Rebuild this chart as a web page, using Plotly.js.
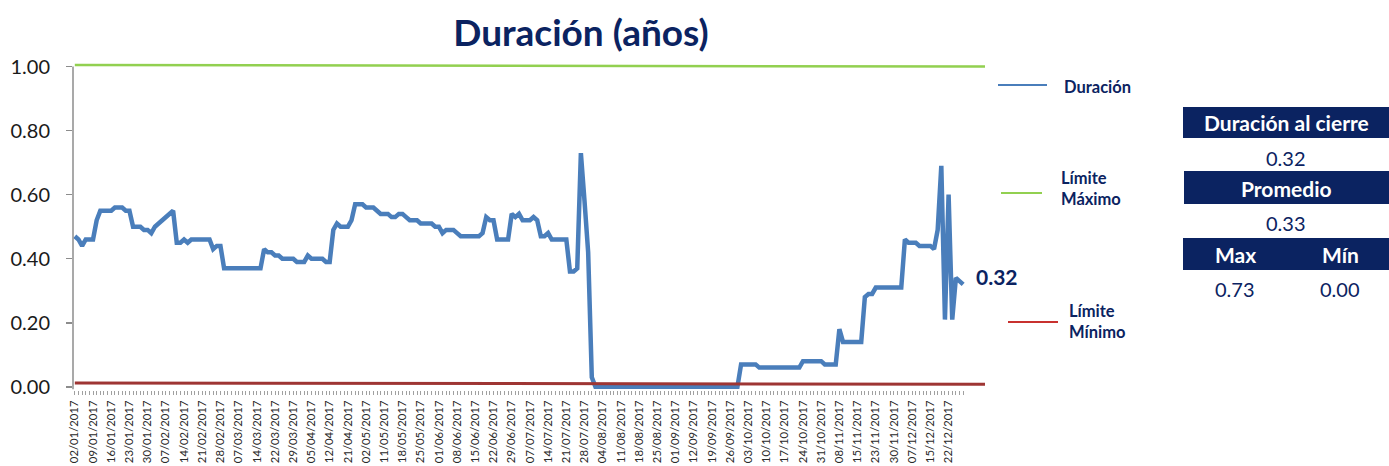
<!DOCTYPE html>
<html>
<head>
<meta charset="utf-8">
<script src="https://cdn.plot.ly/plotly-3.0.1.min.js"></script>
<style>
  html, body { margin: 0; padding: 0; background: #ffffff; }
  #chart { width: 1389px; height: 466px; }
</style>
</head>
<body>
<div id="chart"></div>
<script>
// ---------- DATA ----------
const dates = [
  "02/01/2017","03/01/2017","04/01/2017","05/01/2017","06/01/2017",
  "09/01/2017","10/01/2017","11/01/2017","12/01/2017","13/01/2017",
  "16/01/2017","17/01/2017","18/01/2017","19/01/2017","20/01/2017",
  "23/01/2017","24/01/2017","25/01/2017","26/01/2017","27/01/2017",
  "30/01/2017","31/01/2017","01/02/2017","02/02/2017","03/02/2017",
  "07/02/2017","08/02/2017","09/02/2017","10/02/2017","13/02/2017",
  "14/02/2017","15/02/2017","16/02/2017","17/02/2017","20/02/2017",
  "21/02/2017","22/02/2017","23/02/2017","24/02/2017","27/02/2017",
  "28/02/2017","01/03/2017","02/03/2017","03/03/2017","06/03/2017",
  "07/03/2017","08/03/2017","09/03/2017","10/03/2017","13/03/2017",
  "14/03/2017","15/03/2017","16/03/2017","17/03/2017","21/03/2017",
  "22/03/2017","23/03/2017","24/03/2017","27/03/2017","28/03/2017",
  "29/03/2017","30/03/2017","31/03/2017","03/04/2017","04/04/2017",
  "05/04/2017","06/04/2017","07/04/2017","10/04/2017","11/04/2017",
  "12/04/2017","17/04/2017","18/04/2017","19/04/2017","20/04/2017",
  "21/04/2017","24/04/2017","25/04/2017","26/04/2017","27/04/2017",
  "02/05/2017","04/05/2017","05/05/2017","08/05/2017","10/05/2017",
  "11/05/2017","12/05/2017","15/05/2017","16/05/2017","17/05/2017",
  "18/05/2017","19/05/2017","22/05/2017","23/05/2017","24/05/2017",
  "25/05/2017","26/05/2017","29/05/2017","30/05/2017","31/05/2017",
  "01/06/2017","02/06/2017","05/06/2017","06/06/2017","07/06/2017",
  "08/06/2017","09/06/2017","12/06/2017","13/06/2017","14/06/2017",
  "15/06/2017","16/06/2017","19/06/2017","20/06/2017","21/06/2017",
  "22/06/2017","23/06/2017","26/06/2017","27/06/2017","28/06/2017",
  "29/06/2017","30/06/2017","03/07/2017","05/07/2017","06/07/2017",
  "07/07/2017","10/07/2017","11/07/2017","12/07/2017","13/07/2017",
  "14/07/2017","17/07/2017","18/07/2017","19/07/2017","20/07/2017",
  "21/07/2017","24/07/2017","25/07/2017","26/07/2017","27/07/2017",
  "28/07/2017","31/07/2017","01/08/2017","02/08/2017","03/08/2017",
  "04/08/2017","07/08/2017","08/08/2017","09/08/2017","10/08/2017",
  "11/08/2017","14/08/2017","15/08/2017","16/08/2017","17/08/2017",
  "18/08/2017","21/08/2017","22/08/2017","23/08/2017","24/08/2017",
  "25/08/2017","28/08/2017","29/08/2017","30/08/2017","31/08/2017",
  "01/09/2017","04/09/2017","05/09/2017","06/09/2017","08/09/2017",
  "12/09/2017","13/09/2017","14/09/2017","15/09/2017","18/09/2017",
  "19/09/2017","20/09/2017","21/09/2017","22/09/2017","25/09/2017",
  "26/09/2017","27/09/2017","28/09/2017","29/09/2017","02/10/2017",
  "03/10/2017","04/10/2017","05/10/2017","06/10/2017","09/10/2017",
  "10/10/2017","11/10/2017","12/10/2017","13/10/2017","16/10/2017",
  "17/10/2017","18/10/2017","19/10/2017","20/10/2017","23/10/2017",
  "24/10/2017","25/10/2017","26/10/2017","27/10/2017","30/10/2017",
  "31/10/2017","01/11/2017","03/11/2017","06/11/2017","07/11/2017",
  "08/11/2017","09/11/2017","10/11/2017","13/11/2017","14/11/2017",
  "15/11/2017","16/11/2017","17/11/2017","21/11/2017","22/11/2017",
  "23/11/2017","24/11/2017","27/11/2017","28/11/2017","29/11/2017",
  "30/11/2017","01/12/2017","04/12/2017","05/12/2017","06/12/2017",
  "07/12/2017","08/12/2017","11/12/2017","13/12/2017","14/12/2017",
  "15/12/2017","18/12/2017","19/12/2017","20/12/2017","21/12/2017",
  "22/12/2017","26/12/2017","27/12/2017","28/12/2017","29/12/2017"
];

const duracion = [
  0.47,0.46,0.44,0.46,0.46, 0.46,0.52,0.55,0.55,0.55,
  0.55,0.56,0.56,0.56,0.55, 0.55,0.50,0.50,0.50,0.49,
  0.49,0.48,0.50,0.51,0.52, 0.53,0.54,0.55,0.45,0.45,
  0.46,0.45,0.46,0.46,0.46, 0.46,0.46,0.46,0.43,0.44,
  0.44,0.37,0.37,0.37,0.37, 0.37,0.37,0.37,0.37,0.37,
  0.37,0.37,0.43,0.42,0.42, 0.41,0.41,0.40,0.40,0.40,
  0.40,0.39,0.39,0.39,0.41, 0.40,0.40,0.40,0.40,0.39,
  0.39,0.49,0.51,0.50,0.50, 0.50,0.52,0.57,0.57,0.57,
  0.56,0.56,0.56,0.55,0.54, 0.54,0.54,0.53,0.53,0.54,
  0.54,0.53,0.52,0.52,0.52, 0.51,0.51,0.51,0.51,0.50,
  0.50,0.48,0.49,0.49,0.49, 0.48,0.47,0.47,0.47,0.47,
  0.47,0.47,0.48,0.53,0.52, 0.52,0.46,0.46,0.46,0.46,
  0.54,0.53,0.54,0.52,0.52, 0.52,0.53,0.52,0.47,0.47,
  0.48,0.46,0.46,0.46,0.46, 0.46,0.36,0.36,0.37,0.73,
  0.58,0.42,0.03,0.00,0.00, 0.00,0.00,0.00,0.00,0.00,
  0.00,0.00,0.00,0.00,0.00, 0.00,0.00,0.00,0.00,0.00,
  0.00,0.00,0.00,0.00,0.00, 0.00,0.00,0.00,0.00,0.00,
  0.00,0.00,0.00,0.00,0.00, 0.00,0.00,0.00,0.00,0.00,
  0.00,0.00,0.00,0.07,0.07, 0.07,0.07,0.07,0.06,0.06,
  0.06,0.06,0.06,0.06,0.06, 0.06,0.06,0.06,0.06,0.06,
  0.08,0.08,0.08,0.08,0.08, 0.08,0.07,0.07,0.07,0.07,
  0.18,0.14,0.14,0.14,0.14, 0.14,0.14,0.28,0.29,0.29,
  0.31,0.31,0.31,0.31,0.31, 0.31,0.31,0.31,0.46,0.45,
  0.45,0.45,0.44,0.44,0.44, 0.44,0.43,0.49,0.69,0.21,
  0.60,0.21,0.34,0.33,0.32
];

const limiteMaximo = [1.005, 1.0];
const limiteMinimo = [0.012, 0.008];
const limiteSpan = [0.002, 1.0];

const yTicks = [0, 0.2, 0.4, 0.6, 0.8, 1.0];

const statHeaders = ["Duración al cierre", "Promedio", "Max", "Mín"];
const statValues = ["0.32", "0.33", "0.73", "0.00"];
const lastLabel = "0.32";

const legendNames = ["Duración", "Límite<br>Máximo", "Límite<br>Mínimo"];

// ---------- LAYOUT HELPERS ----------
const FULLW = 1389, FULLH = 466;
const ML = 73, MR = 404, MT = 57, MB = 76;
const PW = FULLW - ML - MR, PH = FULLH - MT - MB;
const px = v => (v - ML) / PW;
const py = v => (FULLH - MB - v) / PH;

const NAVY = "#0b2361";
const BLUE = "#4A7EBB";
const GREEN = "#92D050";
const DARKRED = "#9E3533";

const tickText = dates.map((d, i) => (i % 5 === 0 ? d : ""));

const traces = [
  {
    x: dates, y: duracion, type: "scatter", mode: "lines",
    line: { color: BLUE, width: 4.5 }, hoverinfo: "x+y", showlegend: false
  },
  {
    x: limiteSpan, y: limiteMaximo, xaxis: "x2", yaxis: "y", type: "scatter",
    mode: "lines", line: { color: GREEN, width: 2.5 }, showlegend: false
  },
  {
    x: limiteSpan, y: limiteMinimo, xaxis: "x2", yaxis: "y", type: "scatter",
    mode: "lines", line: { color: DARKRED, width: 3 }, showlegend: false
  }
];

const shapes = [
  // y axis line
  { type: "line", xref: "paper", yref: "y", x0: 0, x1: 0, y0: -0.008, y1: 1.0,
    line: { color: "#8c8c8c", width: 1.5 } },
  // legend swatches
  { type: "line", xref: "paper", yref: "paper", x0: px(998), x1: px(1047), y0: py(85), y1: py(85),
    line: { color: BLUE, width: 2 } },
  { type: "line", xref: "paper", yref: "paper", x0: px(1001), x1: px(1042), y0: py(193), y1: py(193),
    line: { color: GREEN, width: 2 } },
  { type: "line", xref: "paper", yref: "paper", x0: px(1008), x1: px(1058), y0: py(322), y1: py(322),
    line: { color: "#C8312F", width: 2 } },
  // table header bars
  { type: "rect", xref: "paper", yref: "paper", x0: px(1183), x1: px(1389), y0: py(138), y1: py(107),
    fillcolor: NAVY, line: { width: 0 } },
  { type: "rect", xref: "paper", yref: "paper", x0: px(1184), x1: px(1389), y0: py(204), y1: py(171),
    fillcolor: NAVY, line: { width: 0 } },
  { type: "rect", xref: "paper", yref: "paper", x0: px(1183), x1: px(1389), y0: py(270), y1: py(238),
    fillcolor: NAVY, line: { width: 0 } }
];

const ann = (x, y, text, opts) => Object.assign({
  xref: "paper", yref: "paper", x: px(x), y: py(y), text: text, showarrow: false,
  xanchor: "center", yanchor: "middle",
  font: { family: "Lato, 'Open Sans', sans-serif", size: 20, color: NAVY }
}, opts || {});

const annotations = [
  // legend labels
  ann(1062, 87, "<b>" + legendNames[0] + "</b>", { xanchor: "left", align: "left",
    font: { family: "Lato", size: 16.5, color: NAVY } }),
  ann(1059, 188, "<b>" + legendNames[1] + "</b>", { xanchor: "left", align: "left",
    font: { family: "Lato", size: 16.5, color: NAVY } }),
  ann(1067, 321, "<b>" + legendNames[2] + "</b>", { xanchor: "left", align: "left",
    font: { family: "Lato", size: 16.5, color: NAVY } }),
  // table
  ann(1286, 123, "<b>" + statHeaders[0] + "</b>", { font: { family: "Lato", size: 21, color: "#ffffff" } }),
  ann(1286, 158, statValues[0]),
  ann(1286, 188, "<b>" + statHeaders[1] + "</b>", { font: { family: "Lato", size: 21, color: "#ffffff" } }),
  ann(1286, 223, statValues[1]),
  ann(1235, 254, "<b>" + statHeaders[2] + "</b>", { font: { family: "Lato", size: 21, color: "#ffffff" } }),
  ann(1340, 254, "<b>" + statHeaders[3] + "</b>", { font: { family: "Lato", size: 21, color: "#ffffff" } }),
  ann(1235, 289, statValues[2]),
  ann(1340, 289, statValues[3]),
  // end label
  {
    xref: "x", yref: "y", x: dates[dates.length - 1], y: duracion[duracion.length - 1],
    text: "<b>" + lastLabel + "</b>", showarrow: false, xanchor: "left", yanchor: "middle",
    xshift: 11, yshift: 8,
    font: { family: "Lato", size: 21, color: NAVY }
  }
];

const layout = {
  width: FULLW, height: FULLH,
  margin: { l: ML, r: MR, t: MT, b: MB, pad: 0 },
  paper_bgcolor: "#ffffff", plot_bgcolor: "#ffffff",
  showlegend: false,
  title: {
    text: "<b>Duración (años)</b>",
    font: { family: "Lato, sans-serif", size: 37, color: NAVY },
    xref: "container", yref: "container", x: 581 / FULLW, xanchor: "center",
    y: 1 - 33 / FULLH, yanchor: "middle"
  },
  xaxis: {
    type: "category", categoryorder: "array", categoryarray: dates,
    range: [-0.5, 250], tickmode: "array", tickvals: dates, ticktext: tickText,
    tickangle: -90, ticks: "outside", ticklen: 4, tickwidth: 1, tickcolor: "#a0a0a0",
    ticklabelstandoff: 1,
    showline: false, showgrid: false, zeroline: false, automargin: false,
    tickfont: { family: "Lato, sans-serif", size: 11.3, color: "#2a2a2a" }
  },
  xaxis2: { overlaying: "x", range: [0, 1], visible: false, fixedrange: true },
  yaxis: {
    range: [-0.01, 1.03], tickmode: "array", tickvals: yTicks, tickformat: ".2f",
    ticks: "outside", ticklen: 6, tickwidth: 1.5, tickcolor: "#8c8c8c",
    ticklabelstandoff: 12,
    showline: false, showgrid: false, zeroline: false, automargin: false,
    tickfont: { family: "Lato, sans-serif", size: 20, color: "#1a1a1a" }
  },
  shapes: shapes,
  annotations: annotations
};

Plotly.newPlot("chart", traces, layout, { displayModeBar: false, staticPlot: true });
</script>
</body>
</html>
